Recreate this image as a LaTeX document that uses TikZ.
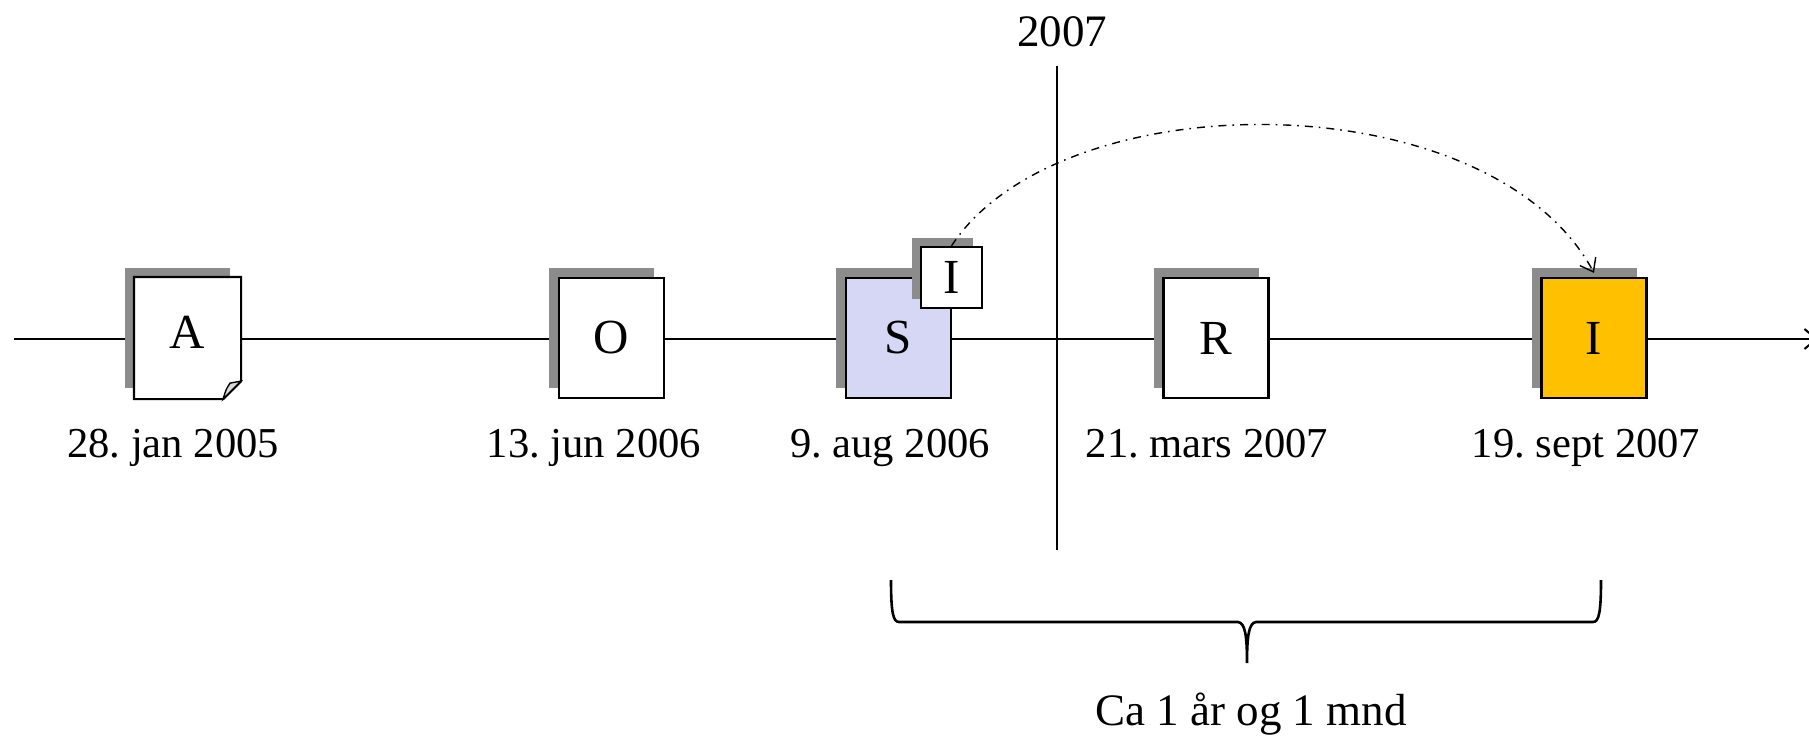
\documentclass[tikz,border=0pt]{standalone}
\usepackage{fontspec}
\setmainfont{Liberation Serif}
\usetikzlibrary{arrows.meta,shadows}
\definecolor{lavender}{RGB}{214,214,245}
\definecolor{amber}{RGB}{255,192,0}
\definecolor{shadowgray}{RGB}{140,140,140}
\frenchspacing
\begin{document}
\begin{tikzpicture}[x=0.5pt,y=-0.5pt,font=\fontsize{22.5}{27}\selectfont,
	box/.style={draw, line width=1.1pt, fill=white, inner sep=0pt, font=\fontsize{24.5}{29}\selectfont},
	event/.style={box, minimum width=52.5pt, minimum height=60pt, general shadow={fill=shadowgray, shadow xshift=-5pt, shadow yshift=5pt}},
	mini/.style={box, minimum size=30.5pt, general shadow={fill=shadowgray, shadow xshift=-4.5pt, shadow yshift=4.5pt}},
	date/.style={anchor=base, font=\fontsize{21.3}{26}\selectfont},
	dashdot/.style={line width=0.7pt, dash pattern=on 4pt off 3pt on 0.8pt off 3pt}]
		\useasboundingbox (0,0) rectangle (1809,738);
		\coordinate (tstart) at (14,339);
		\coordinate (tend) at (1818,339);
		\draw[line width=1pt, -{Straight Barb[length=6pt,width=10pt]}] (tstart) -- (tend);
		\coordinate (ytop) at (1057,66);
		\coordinate (ybot) at (1057,550);
		\draw[line width=1pt] (ytop) -- (ybot);
		\node[anchor=base] (year) at (1062,47) {2007};
		% the events
		\node[event, draw=none, text height=16pt, text depth=6pt] (boxA) at (187.5,338) {A};
		\draw[line width=1.1pt] (boxA.north west) -- (boxA.north east) -- ([yshift=9pt]boxA.south east) -- ([xshift=-9pt]boxA.south east) -- (boxA.south west) -- cycle;
		\draw[line width=0.7pt, fill=gray!30] ([xshift=-9pt]boxA.south east) .. controls ([xshift=-7.5pt,yshift=5pt]boxA.south east) .. ([xshift=-5.5pt,yshift=8pt]boxA.south east) -- ([yshift=9pt]boxA.south east) -- cycle;
		\node[event] (boxO) at (611.5,338) {O};
		\node[event, fill=lavender] (boxS) at (898.5,338) {S};
		\node[mini] (boxIs) at (951.5,277.5) {I};
		\node[event] (boxR) at (1216,338) {R};
		\node[event, fill=amber] (boxI) at (1594,338) {I};
		\node[date] (dateA) at (173,457) {28. jan 2005};
		\node[date] (dateO) at (594,457) {13. jun 2006};
		\node[date] (dateS) at (890,457) {9. aug 2006};
		\node[date] (dateR) at (1207,457) {21. mars 2007};
		\node[date] (dateI) at (1586,457) {19. sept 2007};
		\draw[dashdot, -{Straight Barb[length=6pt,width=9pt]}] (boxIs.north) .. controls (1060,80) and (1490,80) .. ([yshift=2pt]boxI.north);
		% brace
		\draw[line width=1.3pt] (891,580) .. controls (891,612) and (893,622) .. (899,622) -- (1238,622) .. controls (1245,623) and (1247,635) .. (1247,663) .. controls (1247,635) and (1249,623) .. (1256,622) -- (1593,622) .. controls (1599,622) and (1601,612) .. (1601,580);
		\node[anchor=base] (span) at (1251,725) {Ca 1 år og 1 mnd};
	\end{tikzpicture}
\end{document}
